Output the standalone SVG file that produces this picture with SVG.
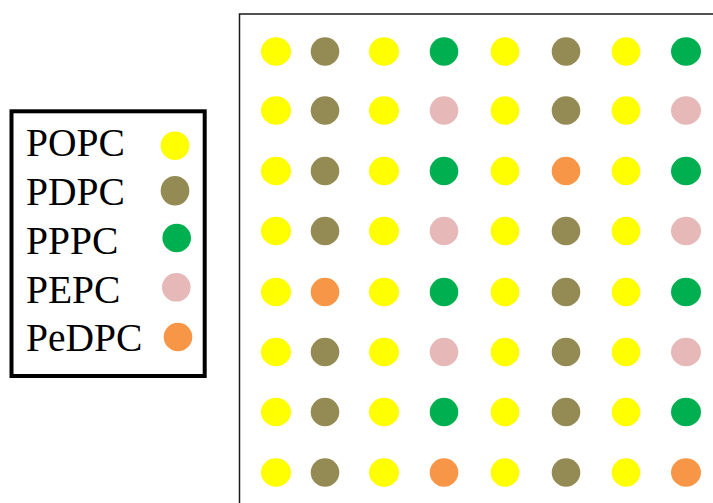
<svg xmlns="http://www.w3.org/2000/svg" width="713" height="503" viewBox="0 0 713 503">
<style>
.y{fill:#FFFF00}.b{fill:#948A54}.g{fill:#00B050}.p{fill:#E6B9B8}.o{fill:#F79646}
.t{font-family:"Liberation Serif","Times New Roman",serif;font-size:39.5px;fill:#000}
</style>
<rect width="713" height="503" fill="#fff"/>
<g id="frame"><polyline points="239.5,503 239.5,14 713,14" fill="none" stroke="#1a1a1a" stroke-width="1.5"/></g>
<g id="legend">
<rect x="11.5" y="111.3" width="193.2" height="264.7" fill="#fff" stroke="#000" stroke-width="4"/>
<text class="t" x="26" y="156">POPC</text>
<text class="t" x="26" y="205">PDPC</text>
<text class="t" x="26" y="254">PPPC</text>
<text class="t" x="26" y="303">PEPC</text>
<text class="t" x="26" y="351">PeDPC</text>
<ellipse class="y" cx="175" cy="145.7" rx="14.3" ry="14.3"/>
<ellipse class="b" cx="175" cy="190.7" rx="14.3" ry="14.8"/>
<ellipse class="g" cx="176.7" cy="238" rx="14.3" ry="14.3"/>
<ellipse class="p" cx="176.3" cy="287.3" rx="14.3" ry="14.3"/>
<ellipse class="o" cx="178" cy="337" rx="14.3" ry="14.3"/>
</g>
<g id="grid">
<g id="r1"><ellipse class="y" cx="276" cy="51.5" rx="15" ry="14.3"/><ellipse class="b" cx="325" cy="51.5" rx="14.3" ry="14.3"/><ellipse class="y" cx="384" cy="51.5" rx="15" ry="14.3"/><ellipse class="g" cx="444" cy="51.5" rx="14.3" ry="14.3"/><ellipse class="y" cx="505" cy="51.5" rx="14.3" ry="14.3"/><ellipse class="b" cx="566" cy="51.5" rx="14.3" ry="14.3"/><ellipse class="y" cx="626" cy="51.5" rx="14.3" ry="14.3"/><ellipse class="g" cx="686" cy="51.5" rx="15" ry="14.3"/></g>
<g id="r2"><ellipse class="y" cx="276" cy="110.5" rx="15" ry="14.3"/><ellipse class="b" cx="325" cy="110.5" rx="14.3" ry="14.3"/><ellipse class="y" cx="384" cy="110.5" rx="15" ry="14.3"/><ellipse class="p" cx="444" cy="110.5" rx="14.3" ry="14.3"/><ellipse class="y" cx="505" cy="110.5" rx="14.3" ry="14.3"/><ellipse class="b" cx="566" cy="110.5" rx="14.3" ry="14.3"/><ellipse class="y" cx="626" cy="110.5" rx="14.3" ry="14.3"/><ellipse class="p" cx="686" cy="110.5" rx="15" ry="14.3"/></g>
<g id="r3"><ellipse class="y" cx="276" cy="171" rx="15" ry="14.3"/><ellipse class="b" cx="325" cy="171" rx="14.3" ry="14.3"/><ellipse class="y" cx="384" cy="171" rx="15" ry="14.3"/><ellipse class="g" cx="444" cy="171" rx="14.3" ry="14.3"/><ellipse class="y" cx="505" cy="171" rx="14.3" ry="14.3"/><ellipse class="o" cx="566" cy="171" rx="14.3" ry="14.3"/><ellipse class="y" cx="626" cy="171" rx="14.3" ry="14.3"/><ellipse class="g" cx="686" cy="171" rx="15" ry="14.3"/></g>
<g id="r4"><ellipse class="y" cx="276" cy="231" rx="15" ry="14.3"/><ellipse class="b" cx="325" cy="231" rx="14.3" ry="14.3"/><ellipse class="y" cx="384" cy="231" rx="15" ry="14.3"/><ellipse class="p" cx="444" cy="231" rx="14.3" ry="14.3"/><ellipse class="y" cx="505" cy="231" rx="14.3" ry="14.3"/><ellipse class="b" cx="566" cy="231" rx="14.3" ry="14.3"/><ellipse class="y" cx="626" cy="231" rx="14.3" ry="14.3"/><ellipse class="p" cx="686" cy="231" rx="15" ry="14.3"/></g>
<g id="r5"><ellipse class="y" cx="276" cy="292" rx="15" ry="14.3"/><ellipse class="o" cx="325" cy="292" rx="14.3" ry="14.3"/><ellipse class="y" cx="384" cy="292" rx="15" ry="14.3"/><ellipse class="g" cx="444" cy="292" rx="14.3" ry="14.3"/><ellipse class="y" cx="505" cy="292" rx="14.3" ry="14.3"/><ellipse class="b" cx="566" cy="292" rx="14.3" ry="14.3"/><ellipse class="y" cx="626" cy="292" rx="14.3" ry="14.3"/><ellipse class="g" cx="686" cy="292" rx="15" ry="14.3"/></g>
<g id="r6"><ellipse class="y" cx="276" cy="352" rx="15" ry="14.3"/><ellipse class="b" cx="325" cy="352" rx="14.3" ry="14.3"/><ellipse class="y" cx="384" cy="352" rx="15" ry="14.3"/><ellipse class="p" cx="444" cy="352" rx="14.3" ry="14.3"/><ellipse class="y" cx="505" cy="352" rx="14.3" ry="14.3"/><ellipse class="b" cx="566" cy="352" rx="14.3" ry="14.3"/><ellipse class="y" cx="626" cy="352" rx="14.3" ry="14.3"/><ellipse class="p" cx="686" cy="352" rx="15" ry="14.3"/></g>
<g id="r7"><ellipse class="y" cx="276" cy="412" rx="15" ry="14.3"/><ellipse class="b" cx="325" cy="412" rx="14.3" ry="14.3"/><ellipse class="y" cx="384" cy="412" rx="15" ry="14.3"/><ellipse class="g" cx="444" cy="412" rx="14.3" ry="14.3"/><ellipse class="y" cx="505" cy="412" rx="14.3" ry="14.3"/><ellipse class="b" cx="566" cy="412" rx="14.3" ry="14.3"/><ellipse class="y" cx="626" cy="412" rx="14.3" ry="14.3"/><ellipse class="g" cx="686" cy="412" rx="15" ry="14.3"/></g>
<g id="r8"><ellipse class="y" cx="276" cy="472.5" rx="15" ry="14.3"/><ellipse class="b" cx="325" cy="472.5" rx="14.3" ry="14.3"/><ellipse class="y" cx="384" cy="472.5" rx="15" ry="14.3"/><ellipse class="o" cx="444" cy="472.5" rx="14.3" ry="14.3"/><ellipse class="y" cx="505" cy="472.5" rx="14.3" ry="14.3"/><ellipse class="b" cx="566" cy="472.5" rx="14.3" ry="14.3"/><ellipse class="y" cx="626" cy="472.5" rx="14.3" ry="14.3"/><ellipse class="o" cx="686" cy="472.5" rx="15" ry="14.3"/></g>
</g>
</svg>
